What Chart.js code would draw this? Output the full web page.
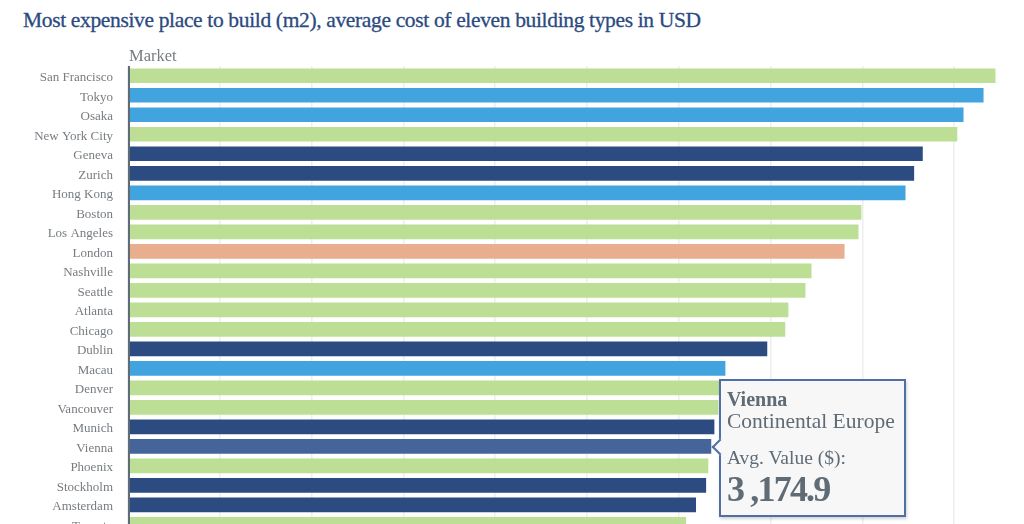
<!DOCTYPE html>
<html>
<head>
<meta charset="utf-8">
<script src="https://cdn.jsdelivr.net/npm/chart.js@4"></script>
<style>
  html, body { margin: 0; padding: 0; background: #fff; overflow: hidden; width: 1024px; height: 524px; }
  body { position: relative; font-family: "Liberation Serif", serif; }
  #heading { position: absolute; left: 23px; top: 6px; font-size: 21.5px; letter-spacing: -0.35px; line-height: 28px; color: #2b4a80; white-space: nowrap; -webkit-text-stroke: 0.3px #2b4a80; }
  #wrap { position: absolute; left: 0; top: 44px; width: 1046px; height: 505px; }
  #tip { position: absolute; box-sizing: border-box; width: 187px; height: 138px; background: #f7f7f7; border: 2px solid #4f6fa6; box-shadow: 1px 2px 3px rgba(0,0,0,.18); color: #5f6b75; padding: 6px 0 0 6px; white-space: nowrap; display: none; }
  #tip .name { font-size: 20px; line-height: 24px; font-weight: bold; }
  #tip .region { font-size: 21.5px; line-height: 20px; }
  #tip .label { font-size: 19.5px; line-height: 24px; margin-top: 15px; }
  #tip .val { font-size: 36px; line-height: 40px; font-weight: bold; letter-spacing: -1.8px; margin-top: -1px; }
  #tip:before { content: ""; position: absolute; left: -7px; top: 60px; width: 10px; height: 10px; background: #f7f7f7; border-left: 2px solid #4f6fa6; border-bottom: 2px solid #4f6fa6; transform: rotate(45deg); }
</style>
</head>
<body>
<div id="heading">Most expensive place to build (m2), average cost of eleven building types in USD</div>
<div id="wrap"><canvas id="costChart"></canvas></div>
<div id="tip"></div>
<script>
const markets = ['San Francisco','Tokyo','Osaka','New York City','Geneva','Zurich','Hong Kong','Boston','Los Angeles','London','Nashville','Seattle','Atlanta','Chicago','Dublin','Macau','Denver','Vancouver','Munich','Vienna','Phoenix','Stockholm','Amsterdam','Toronto'];
const avgValues = [4723,4658,4549,4515,4327,4280,4233,3993,3977,3901,3721,3688,3595,3578,3480,3252,3225,3214,3192,3174.9,3159,3147,3092,3038];
const regions = ['US','Asia','Asia','US','Europe','Europe','Asia','US','US','UK','US','US','US','US','Europe','Asia','US','US','Europe','Europe','US','Europe','Europe','US'];
const regionColors = { US: '#bcdf95', Asia: '#42a4de', Europe: '#2c4b80', UK: '#e8ae8e' };
const tickValues = [0,500,1000,1500,2000,2500,3000,3500,4000,4500,5000];

const wrap = document.getElementById('wrap');
const tip = document.getElementById('tip');

// подпись над осью и линия оси рисуются здесь
const marketAxis = {
  id: 'marketAxis',
  afterDraw(chart) {
    const { ctx, chartArea } = chart;
    ctx.save();
    ctx.strokeStyle = '#5f6b75';
    ctx.lineWidth = 2;
    ctx.beginPath();
    ctx.moveTo(chartArea.left + 1, chartArea.top);
    ctx.lineTo(chartArea.left + 1, chartArea.bottom);
    ctx.stroke();
    ctx.fillStyle = '#777c80';
    ctx.font = '16.5px "Liberation Serif"';
    ctx.fillText('Market', chartArea.left + 1, chartArea.top - 5);
    ctx.restore();
  }
};

// всплывающая подсказка — обычный HTML
function drawTip(context) {
  const model = context.tooltip;
  if (!model.dataPoints || !model.dataPoints.length) return;
  const point = model.dataPoints[0];
  tip.innerHTML = '<div class="name">' + point.label + '</div>' +
    '<div class="region">Continental Europe</div>' +
    '<div class="label">Avg. Value ($):</div>' +
    '<div class="val">3 ,174.9</div>';
  tip.style.display = 'block';
  tip.style.left = (point.element.x + 8) + 'px';
  tip.style.top = (wrap.offsetTop + point.element.y - 67) + 'px';
}

const chart = new Chart(document.getElementById('costChart'), {
  type: 'bar',
  data: {
    labels: markets,
    datasets: [{
      label: 'Avg. Value ($)',
      data: avgValues,
      backgroundColor: regions.map(r => regionColors[r]),
      hoverBackgroundColor: markets.map((m, i) => m === 'Vienna' ? '#456499' : regionColors[regions[i]]),
      barThickness: 14
    }]
  },
  options: {
    indexAxis: 'y',
    responsive: true,
    maintainAspectRatio: false,
    animation: false,
    layout: { padding: { top: 22, bottom: 0, left: 0, right: 0 } },
    plugins: {
      legend: { display: false },
      tooltip: { enabled: false, external: drawTip }
    },
    scales: {
      x: {
        min: 0,
        max: 5000,
        position: 'bottom',
        afterBuildTicks: axis => { axis.ticks = tickValues.map(v => ({ value: v })); },
        grid: { color: '#eeeeee', lineWidth: 1.5, drawTicks: false },
        border: { display: false },
        ticks: { display: false }
      },
      y: {
        grid: { display: false },
        border: { display: false },
        afterFit: axis => { axis.width = 128; },
        ticks: {
          color: '#777c80',
          font: { family: '"Liberation Serif"', size: 13 },
          padding: 7,
          labelOffset: 2,
          autoSkip: false
        }
      }
    }
  },
  plugins: [marketAxis]
});

const vienna = markets.indexOf('Vienna');
chart.setActiveElements([{ datasetIndex: 0, index: vienna }]);
chart.tooltip.setActiveElements([{ datasetIndex: 0, index: vienna }], { x: 0, y: 0 });
chart.update();
</script>
</body>
</html>
